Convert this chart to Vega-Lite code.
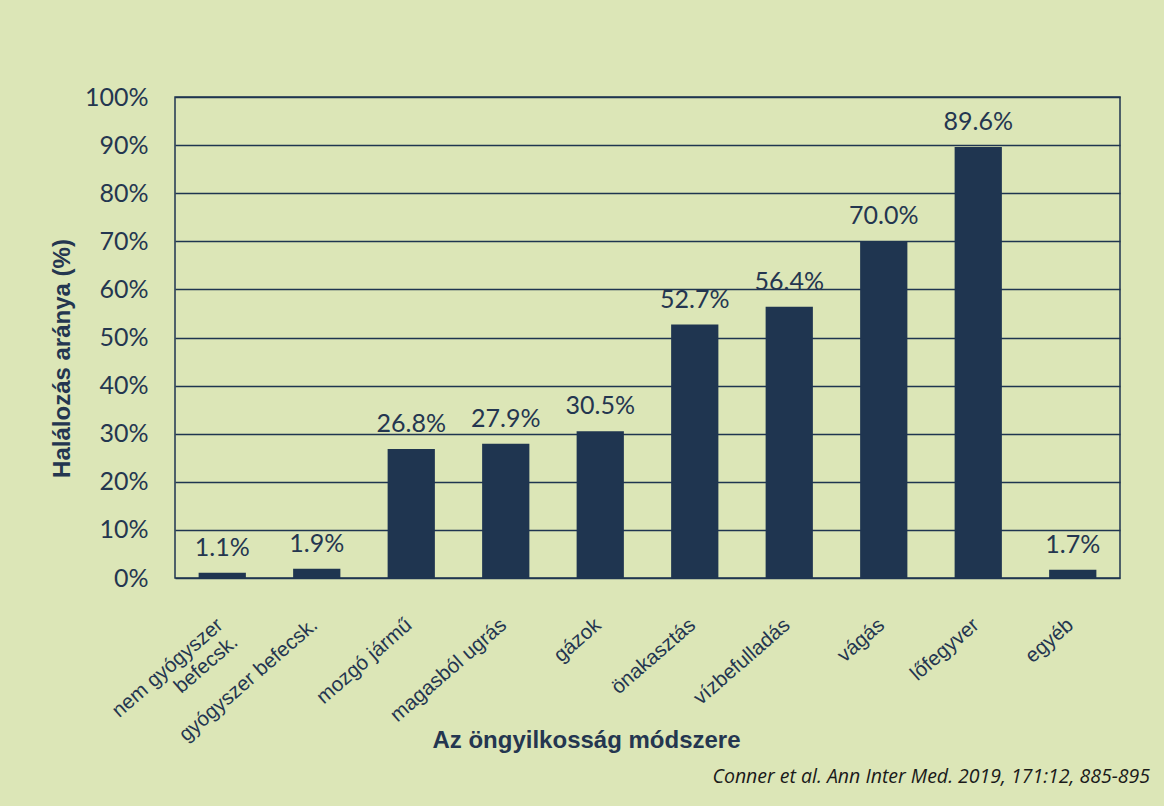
{
  "$schema": "https://vega.github.io/schema/vega-lite/v6.json",
  "autosize": {"type": "none"},
  "width": 945,
  "height": 481,
  "padding": {"left": 175, "top": 97, "right": 44, "bottom": 228},
  "background": "#dce6b7",
  "config": {
    "view": {"stroke": "#1f3550", "strokeWidth": 1.5},
    "axis": {"labelColor": "#243650", "titleColor": "#243650"}
  },
  "title": {
    "text": "Conner et al. Ann Inter Med. 2019, 171:12, 885-895",
    "orient": "bottom",
    "anchor": "end",
    "frame": "group",
    "font": "Open Sans",
    "fontSize": 19.5,
    "fontStyle": "italic",
    "fontWeight": "normal",
    "color": "#1a1a1a",
    "dx": 30,
    "offset": 16
  },
  "data": {
    "values": [
      {"m": "nem gyógyszer befecsk.", "v": 0.011},
      {"m": "gyógyszer befecsk.", "v": 0.019},
      {"m": "mozgó jármű", "v": 0.268},
      {"m": "magasból ugrás", "v": 0.279},
      {"m": "gázok", "v": 0.305},
      {"m": "önakasztás", "v": 0.527},
      {"m": "vízbefulladás", "v": 0.564},
      {"m": "vágás", "v": 0.700},
      {"m": "lőfegyver", "v": 0.896},
      {"m": "egyéb", "v": 0.017}
    ]
  },
  "encoding": {
    "x": {
      "field": "m",
      "type": "nominal",
      "sort": null,
      "scale": {"paddingInner": 0.5, "paddingOuter": 0.25},
      "axis": {
        "title": "Az öngyilkosság módszere",
        "titleFont": "Liberation Sans",
        "titleFontSize": 24,
        "titleFontWeight": "bold",
        "titleX": 411,
        "titleY": 162,
        "titleAlign": "center",
        "titleBaseline": "middle",
        "labelFont": "Liberation Sans",
        "labelFontSize": 20.5,
        "labelAngle": -41,
        "labelAlign": "right",
        "labelBaseline": "middle",
        "labelPadding": 44,
        "labelOffset": -2,
        "labelLimit": 400,
        "labelOverlap": false,
        "labelExpr": "datum.value == 'nem gyógyszer befecsk.' ? ['nem gyógyszer', 'befecsk.'] : datum.label",
        "ticks": false,
        "domain": false
      }
    },
    "y": {
      "field": "v",
      "type": "quantitative",
      "scale": {"domain": [0, 1]},
      "axis": {
        "title": "Halálozás aránya (%)",
        "titleFont": "Liberation Sans",
        "titleFontSize": 24,
        "titleFontWeight": "bold",
        "titleX": -113,
        "titleY": 261,
        "titleAngle": -90,
        "titleAlign": "center",
        "titleBaseline": "middle",
        "format": "%",
        "values": [0, 0.1, 0.2, 0.3, 0.4, 0.5, 0.6, 0.7, 0.8, 0.9, 1],
        "labelOverlap": false,
        "labelFont": "Lato",
        "labelFontSize": 25,
        "labelPadding": 27,
        "ticks": false,
        "domain": false,
        "grid": true,
        "gridColor": "#1f3550",
        "gridWidth": 1.5,
        "gridOpacity": 1
      }
    }
  },
  "layer": [
    {"mark": {"type": "bar", "color": "#1f3550"}},
    {
      "mark": {"type": "text", "baseline": "bottom", "dy": -12, "font": "Lato", "fontSize": 25, "color": "#243650"},
      "encoding": {"text": {"field": "v", "type": "quantitative", "format": ".1%"}}
    }
  ]
}
